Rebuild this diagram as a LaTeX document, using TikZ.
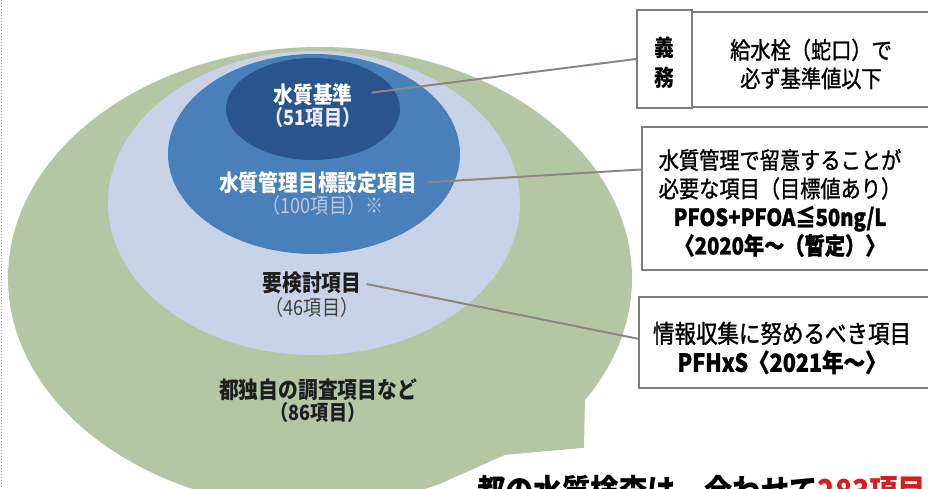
\documentclass[tikz,border=0pt]{standalone}
\usepackage{fontspec}
\setmainfont{Noto Sans CJK JP}[FakeStretch=0.86]
\usetikzlibrary{calc}
\definecolor{greenbg}{RGB}{181,198,165}
\definecolor{lightbl}{RGB}{201,211,232}
\definecolor{medbl}{RGB}{74,128,186}
\definecolor{darkbl}{RGB}{42,84,142}
\definecolor{paletxt}{RGB}{186,201,226}
\definecolor{conncol}{RGB}{140,136,128}
\definecolor{framecol}{RGB}{125,125,125}
\definecolor{darktxt}{RGB}{30,30,30}
\definecolor{redtxt}{RGB}{215,30,30}
\begin{document}
\begin{tikzpicture}[x=1pt,y=-1pt,
  lbl/.style={font=\fontsize{23}{26}\selectfont\bfseries, inner sep=0pt, align=center},
  sublbl/.style={font=\fontsize{21}{24}\selectfont, inner sep=0pt, align=center},
  frame/.style={draw=framecol, line width=2pt, fill=white, inner sep=0pt},
  boxtxt/.style={font=\fontsize{23.5}{28.5}\selectfont\addfontfeature{FakeBold=1.2}, inner sep=0pt, align=center, text=black},
  conn/.style={draw=conncol, line width=2pt}]
\useasboundingbox (0,0) rectangle (928,489);
\clip (0,0) rectangle (928,489);
% left dotted margin line
\draw[gray!70, dotted, line width=1pt] (1.5,0) -- (1.5,489);
% green area
\fill[greenbg] (320,278) ellipse [x radius=312, y radius=231];
\fill[greenbg] (560,380) -- (594,384) -- (585,395) -- (584,448) -- (505,455) -- (495,420) -- cycle;
\fill[white] (584,448) -- (505,455) -- (440,484) -- (425,489) -- (928,489) -- (928,448) -- cycle;
% nested ellipses
\fill[lightbl] (314,203) ellipse [x radius=206, y radius=152];
\fill[medbl] (314,154) ellipse [x radius=146, y radius=100];
\fill[darkbl] (313,109) ellipse [x radius=87, y radius=51];
% ellipse labels
\node[lbl, text=white] (l1) at (313,95) {水質基準};
\node[lbl, text=white!92!blue, font=\fontsize{21}{24}\selectfont\bfseries] (l1b) at (313,118) {（51項目）};
\node[lbl, text=white] (l2) at (318,183) {水質管理目標設定項目};
\node[sublbl, text=paletxt] (l2b) at (323,206) {（100項目）※};
\node[lbl, text=darktxt] (l3) at (312,283) {要検討項目};
\node[sublbl, text=darktxt!85] (l3b) at (312,308) {（46項目）};
\node[lbl, text=darktxt] (l4) at (318,390) {都独自の調査項目など};
\node[lbl, text=darktxt, font=\fontsize{21}{24}\selectfont\bfseries] (l4b) at (318,413) {（86項目）};
% boxes
\node[frame, minimum width=243pt, minimum height=95pt] (b1) at (813.5,59.5) {};
\node[frame, minimum width=55pt, minimum height=98pt] (gimu) at (664.5,59) {};
\node[font=\fontsize{23}{30}\selectfont\bfseries, align=center, inner sep=0pt] (gimut) at (664.5,63) {義\\務};
\node[boxtxt] (b1t) at (811,64) {給水栓（蛇口）で\\必ず基準値以下};
\node[frame, minimum width=293pt, minimum height=143pt] (b2) at (788.5,198.5) {};
\node[boxtxt] (b2t) at (780,203) {水質管理で留意することが\\必要な項目（目標値あり）\\\bfseries PFOS+PFOA≦50ng/L\\\bfseries 〈2020年～（暫定）〉};
\node[frame, minimum width=296pt, minimum height=91pt] (b3) at (787,342.5) {};
\node[boxtxt, font=\fontsize{25}{29}\selectfont\addfontfeature{FakeBold=1.2}] (b3t) at (782,348) {情報収集に努めるべき項目\\\bfseries PFHxS〈2021年～〉};
% connectors
\draw[conn, shorten <=19pt] (l1.east) -- (gimu.west);
\draw[conn, shorten <=11pt] (l2.east) -- ($(b2.north west)!0.3!(b2.south west)$);
\draw[conn, shorten <=5pt] (l3.east) -- ($(b3.north west)!0.46!(b3.south west)$);
% bottom caption (cut by the page edge, as in the reference)
\node[anchor=base west, inner sep=0pt, font=\fontsize{33}{36}\selectfont\bfseries] (cap) at (477,503) {都の水質検査は、合わせて\textcolor{redtxt}{283項目}};
\end{tikzpicture}
\end{document}
